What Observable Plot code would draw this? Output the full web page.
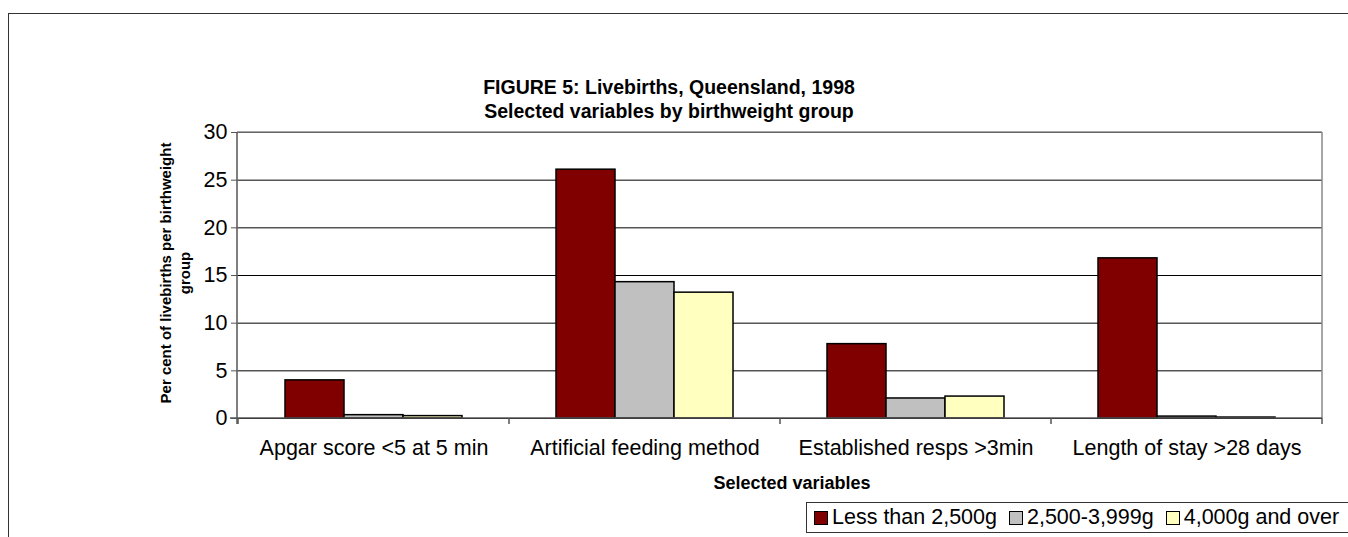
<!DOCTYPE html>
<html>
<head>
<meta charset="utf-8">
<script src="https://cdn.jsdelivr.net/npm/d3@7"></script>
<script src="https://cdn.jsdelivr.net/npm/@observablehq/plot@0.6"></script>
<style>
  html, body { margin: 0; padding: 0; background: #fff; }
  body { font-family: Arial, "Liberation Sans", sans-serif; color: #000; }
  #wrap { position: relative; width: 1348px; height: 537px; overflow: hidden; }
  #frame { position: absolute; left: 8px; top: 13px; width: 1400px; height: 600px; border-top: 1.5px solid #333; border-left: 1.5px solid #333; }
  #title { position: absolute; left: 319px; width: 700px; top: 75px; text-align: center; font-weight: bold; font-size: 19.5px; line-height: 24px; }
  #chart { position: absolute; left: 0; top: 120px; }
  #ylabel { position: absolute; left: 175px; top: 273px; transform: translate(-50%, -50%) rotate(-90deg); white-space: nowrap; text-align: center; font-weight: bold; font-size: 15px; line-height: 19px; }
  #xlabel { position: absolute; left: 492px; width: 600px; top: 473px; text-align: center; font-weight: bold; font-size: 18px; }
  #legend { position: absolute; left: 806px; top: 502px; width: 700px; height: 31px; border: 1.5px solid #333; font-size: 21.5px; display: flex; align-items: center; padding-left: 7px; box-sizing: border-box; }
  #legend .item { display: flex; align-items: center; margin-right: 12px; }
  #legend .sw { width: 12px; height: 12px; border: 1.5px solid #000; margin-right: 4px; }
</style>
</head>
<body>
<div id="wrap">
  <div id="frame"></div>
  <div id="title">FIGURE 5: Livebirths, Queensland, 1998<br>Selected variables by birthweight group</div>
  <div id="chart"></div>
  <div id="ylabel">Per cent of livebirths per birthweight<br>group</div>
  <div id="xlabel">Selected variables</div>
  <div id="legend"></div>
</div>
<script>
const categories = ["Apgar score <5 at 5 min", "Artificial feeding method", "Established resps >3min", "Length of stay >28 days"];
const groups = ["Less than 2,500g", "2,500-3,999g", "4,000g and over"];
const lessThan2500 = [4.0, 26.1, 7.8, 16.8];
const from2500to3999 = [0.35, 14.3, 2.1, 0.2];
const over4000 = [0.25, 13.2, 2.3, 0.1];
const yTicks = [0, 5, 10, 15, 20, 25, 30];
const colors = ["#800000", "#C0C0C0", "#FFFFC0"];

const series = [lessThan2500, from2500to3999, over4000];
const data = [];
categories.forEach((c, i) => groups.forEach((g, j) => data.push({category: c, group: g, value: series[j][i]})));

const chart = Plot.plot({
  width: 1348,
  height: 350,
  marginLeft: 237,
  marginRight: 26,
  marginTop: 12,
  marginBottom: 52,
  style: {fontFamily: "Arial, 'Liberation Sans', sans-serif", fontSize: "21.5px", color: "#000", background: "transparent"},
  fx: {domain: categories, padding: 0, label: null},
  x: {domain: groups, paddingInner: 0, paddingOuter: 0.76, axis: null},
  y: {domain: [0, 30], label: null},
  color: {domain: groups, range: colors},
  marks: [
    Plot.gridY(yTicks, {stroke: "#000", strokeOpacity: 1, strokeWidth: 1}),
    Plot.barY(data, {fx: "category", x: "group", y: "value", fill: "group", stroke: "#000", strokeWidth: 1.5}),
    Plot.axisY(yTicks, {tickSize: 7, tickPadding: 4, fontSize: 21.5, label: null, stroke: "#555", tickFormat: d => String(d)}),
    Plot.axisFx({anchor: "bottom", tickSize: 0, tickPadding: 21, label: null, fontSize: 21.5})
  ]
});
document.getElementById("chart").appendChild(chart);

// plot-area border, axis lines and category separator ticks, derived from the scales
const fx = chart.scale("fx");
const y = chart.scale("y");
const x0 = fx.range[0], x1 = fx.range[1];
const yTop = y.apply(30), yBot = y.apply(0);
const svg = d3.select(chart);
const g = svg.append("g");
g.append("line").attr("x1", x0).attr("x2", x1).attr("y1", yTop).attr("y2", yTop).attr("stroke", "#888").attr("stroke-width", 1.5);
g.append("line").attr("x1", x1).attr("x2", x1).attr("y1", yTop).attr("y2", yBot).attr("stroke", "#888").attr("stroke-width", 1.5);
g.append("line").attr("x1", x0).attr("x2", x0).attr("y1", yTop).attr("y2", yBot + 6).attr("stroke", "#555").attr("stroke-width", 1.5);
g.append("line").attr("x1", x0 - 7).attr("x2", x1).attr("y1", yBot).attr("y2", yBot).attr("stroke", "#555").attr("stroke-width", 1.5);
const bounds = categories.map(c => fx.apply(c)).concat([x1]);
bounds.forEach(b => {
  g.append("line").attr("x1", b).attr("x2", b).attr("y1", yBot).attr("y2", yBot + 6).attr("stroke", "#555").attr("stroke-width", 1.5);
});

// legend
const legend = document.getElementById("legend");
groups.forEach((grp, i) => {
  const item = document.createElement("div");
  item.className = "item";
  const sw = document.createElement("div");
  sw.className = "sw";
  sw.style.background = colors[i];
  item.appendChild(sw);
  item.appendChild(document.createTextNode(grp));
  legend.appendChild(item);
});
</script>
</body>
</html>
